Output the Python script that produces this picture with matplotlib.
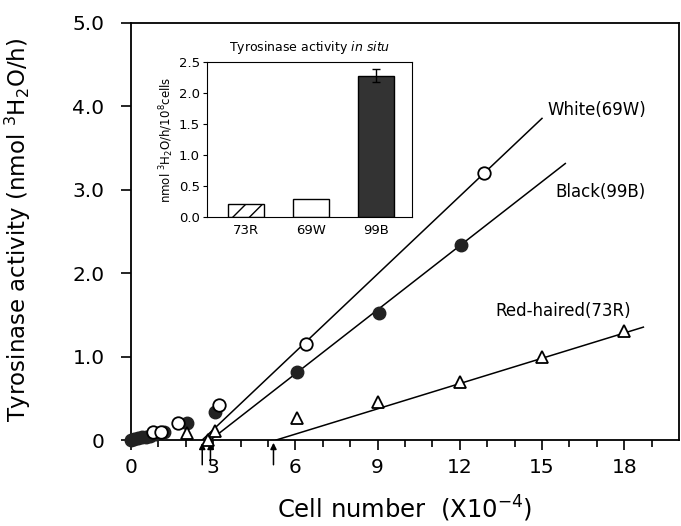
import numpy as np
import matplotlib
matplotlib.use('Agg')
import matplotlib.pyplot as plt

plt.rcParams['font.family'] = ['DejaVu Sans']

# main plot data (cell number x10^-4, activity nmol 3H2O/h)
white_x = [0.8, 1.1, 1.7, 3.2, 6.4, 12.9]
white_y = [0.10, 0.10, 0.20, 0.42, 1.15, 3.20]
black_x = [0.0, 0.1, 0.25, 0.4, 0.55, 0.7, 0.9, 1.05, 1.2, 2.05, 3.05, 6.05, 9.05, 12.05]
black_y = [0.0, 0.01, 0.02, 0.03, 0.04, 0.05, 0.07, 0.08, 0.09, 0.20, 0.34, 0.82, 1.52, 2.34]
red_x = [2.05, 2.8, 3.05, 6.05, 9.0, 12.0, 15.0, 18.0]
red_y = [0.08, 0.0, 0.11, 0.26, 0.45, 0.70, 0.99, 1.31]

# fitted lines: x-intercept, slope, end x
fit_names = ['White(69W)', 'Black(99B)', 'Red-haired(73R)']
fit_x0 = [2.6, 2.9, 5.3]
fit_slope = [0.311, 0.256, 0.101]
fit_xend = [15.0, 15.85, 18.7]
label_pos = [(15.2, 3.96), (15.5, 2.97), (13.3, 1.55)]
arrow_x = [2.6, 2.9, 5.2]

# inset data
inset_cats = ['73R', '69W', '99B']
inset_vals = [0.21, 0.29, 2.28]
inset_err = [0.0, 0.01, 0.11]

fig = plt.figure(figsize=(6.81, 5.26), dpi=100)
ax = fig.add_axes([131/681, 1 - 440/526, (679-131)/681, (440-23)/526])

for x0, m, x1 in zip(fit_x0, fit_slope, fit_xend):
    xs = np.array([x0, x1])
    ax.plot(xs, m * (xs - x0), color='black', lw=1.1, zorder=2)

ax.plot(black_x, black_y, 'o', color='#222222', ms=9, mec='#222222', clip_on=False, zorder=3)
ax.plot(white_x, white_y, 'o', mfc='white', mec='black', mew=1.3, ms=9, clip_on=False, zorder=4)
ax.plot(red_x, red_y, '^', mfc='white', mec='black', mew=1.3, ms=9, clip_on=False, zorder=4)

for name, (lx, ly) in zip(fit_names, label_pos):
    ax.text(lx, ly, name, fontsize=12, ha='left', va='center')

for xa in arrow_x:
    ax.annotate('', xy=(xa, 0), xytext=(xa, -0.33),
                arrowprops=dict(arrowstyle='-|>', color='black', lw=1.1, mutation_scale=9),
                annotation_clip=False)

ax.set_xlim(0, 20)
ax.set_ylim(0, 5.0)
ax.set_xticks(np.arange(0, 19, 3))
ax.set_xticks(np.arange(0, 20, 1), minor=True)
ax.set_yticks([0, 1, 2, 3, 4, 5])
ax.set_yticklabels(['0', '1.0', '2.0', '3.0', '4.0', '5.0'])
ax.tick_params(axis='both', which='major', labelsize=14.5, length=7, width=1.2, direction='out')
ax.tick_params(axis='x', which='minor', length=5, width=1.2, direction='out')
ax.tick_params(axis='y', pad=12)
ax.tick_params(axis='x', pad=6)
for s in ax.spines.values():
    s.set_linewidth(1.3)
ax.set_xlabel('Cell number  (X10$^{-4}$)', fontsize=17.5, labelpad=12)
ax.set_ylabel('Tyrosinase activity (nmol $^3$H$_2$O/h)', fontsize=16.5)
ax.yaxis.set_label_coords(-0.178, 0.505)

# inset bar chart
ins = fig.add_axes([207/681, 1 - 217/526, (412-207)/681, (217-62)/526])
xpos = np.arange(len(inset_cats))
ins.bar(xpos[0], inset_vals[0], width=0.55, color='white', edgecolor='black', hatch='//', lw=1)
ins.bar(xpos[1], inset_vals[1], width=0.55, color='white', edgecolor='black', lw=1)
ins.bar(xpos[2], inset_vals[2], width=0.55, color='#333333', edgecolor='black', lw=1,
        yerr=inset_err[2], error_kw=dict(capsize=3, lw=1, capthick=1))
ins.set_xlim(-0.6, 2.55)
ins.set_ylim(0, 2.5)
ins.set_yticks(np.arange(0, 2.6, 0.5))
ins.set_yticklabels([f'{v:.1f}' for v in np.arange(0, 2.6, 0.5)])
ins.set_xticks(xpos)
ins.set_xticklabels(inset_cats)
ins.tick_params(axis='x', length=0, labelsize=9.5, pad=5)
ins.tick_params(axis='y', labelsize=9.5, length=3, direction='out', pad=2)
ins.set_ylabel('nmol $^3$H$_2$O/h/10$^8$cells', fontsize=8.5, labelpad=2)
ins.set_title('Tyrosinase activity $\\it{in\\ situ}$', fontsize=9, pad=8)

fig.savefig('out.png', dpi=100)
